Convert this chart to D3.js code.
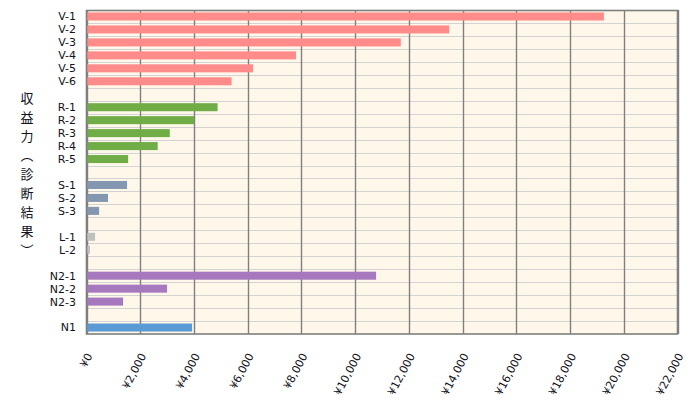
<!DOCTYPE html>
<html>
<head>
<meta charset="utf-8">
<script src="https://cdn.jsdelivr.net/npm/d3@7"></script>
<style>
  html, body { margin: 0; padding: 0; background: #ffffff; }
  svg { display: block; }
</style>
</head>
<body>
<svg id="chart" width="691" height="400"></svg>
<script>
// ---- data ----
const categories = ["V-1","V-2","V-3","V-4","V-5","V-6","",
                    "R-1","R-2","R-3","R-4","R-5","",
                    "S-1","S-2","S-3","",
                    "L-1","L-2","",
                    "N2-1","N2-2","N2-3","",
                    "N1"];
const values = [19260, 13500, 11700, 7800, 6200, 5400, null,
                4880, 4000, 3100, 2650, 1550, null,
                1510, 800, 470, null,
                320, 130, null,
                10780, 3000, 1360, null,
                3930];
const groups = ["V","V","V","V","V","V","",
                "R","R","R","R","R","",
                "S","S","S","",
                "L","L","",
                "N2","N2","N2","",
                "N1"];
const groupNames = ["V","R","S","L","N2","N1"];
const groupColors = ["#ff8b8b","#70ad47","#8497b0","#c0c0c0","#a678bd","#5b9bd5"];
const xTicks = [0,2000,4000,6000,8000,10000,12000,14000,16000,18000,20000,22000];
const yTitle = "収益力（診断結果）";

// ---- layout ----
const svg = d3.select("#chart");
const mLeft = 86.5, mRight = 677.5, mTop = 10, mBottom = 334;

const x = d3.scaleLinear().domain([0, 22000]).range([mLeft, mRight]);
const idx = d3.range(categories.length);
const pad = 0.38;
const y = d3.scaleBand().domain(idx).range([mTop, mBottom]).paddingInner(pad).paddingOuter(pad / 2);
const color = d3.scaleOrdinal().domain(groupNames).range(groupColors);

// background
svg.append("rect")
  .attr("x", mLeft).attr("y", mTop)
  .attr("width", mRight - mLeft).attr("height", mBottom - mTop)
  .attr("fill", "#fff8ea");

// horizontal row lines
const step = y.step();
svg.append("g").selectAll("line")
  .data(d3.range(1, categories.length))
  .join("line")
  .attr("x1", mLeft).attr("x2", mRight)
  .attr("y1", i => Math.round(mTop + i * step) + 0.5)
  .attr("y2", i => Math.round(mTop + i * step) + 0.5)
  .attr("stroke", "#d3d3d3").attr("stroke-width", 1);

// vertical grid lines
svg.append("g").selectAll("line")
  .data(xTicks)
  .join("line")
  .attr("x1", d => Math.round(x(d)) + 0.5)
  .attr("x2", d => Math.round(x(d)) + 0.5)
  .attr("y1", mTop).attr("y2", mBottom)
  .attr("stroke", "#7f7f7f").attr("stroke-width", 1.4);

// bars
const barData = idx.filter(i => values[i] != null);
svg.append("g").selectAll("rect")
  .data(barData)
  .join("rect")
  .attr("x", x(0))
  .attr("y", i => y(i))
  .attr("width", i => x(values[i]) - x(0))
  .attr("height", y.bandwidth())
  .attr("fill", i => color(groups[i]));

// border
svg.append("rect")
  .attr("x", mLeft).attr("y", mTop + 0.5)
  .attr("width", mRight - mLeft).attr("height", mBottom - mTop - 0.5)
  .attr("fill", "none")
  .attr("stroke", "#7f7f7f").attr("stroke-width", 1.6);

// y labels
svg.append("g").selectAll("text")
  .data(idx.filter(i => categories[i] !== ""))
  .join("text")
  .attr("x", 76)
  .attr("y", i => y(i) + y.bandwidth() / 2)
  .attr("dy", "0.36em")
  .attr("text-anchor", "end")
  .attr("font-family", "'DejaVu Sans', Verdana, sans-serif")
  .attr("font-size", 11)
  .attr("fill", "#111122")
  .text(i => categories[i]);

// x tick labels
const fmt = d => "¥" + d3.format(",")(d);
svg.append("g").selectAll("text")
  .data(xTicks)
  .join("text")
  .attr("transform", d => `translate(${x(d) + 3},${354}) rotate(-62)`)
  .attr("text-anchor", "end")
  .attr("dy", "0.35em")
  .attr("font-family", "'DejaVu Sans', Verdana, sans-serif")
  .attr("font-size", 11)
  .attr("fill", "#111122")
  .text(fmt);

// y title (vertical)
svg.append("text")
  .attr("x", 27).attr("y", 92)
  .attr("writing-mode", "vertical-rl")
  .style("writing-mode", "vertical-rl")
  .attr("font-family", "'Noto Sans CJK JP', sans-serif")
  .attr("font-size", 13)
  .attr("letter-spacing", 6)
  .attr("fill", "#111122")
  .text(yTitle);
</script>
</body>
</html>
